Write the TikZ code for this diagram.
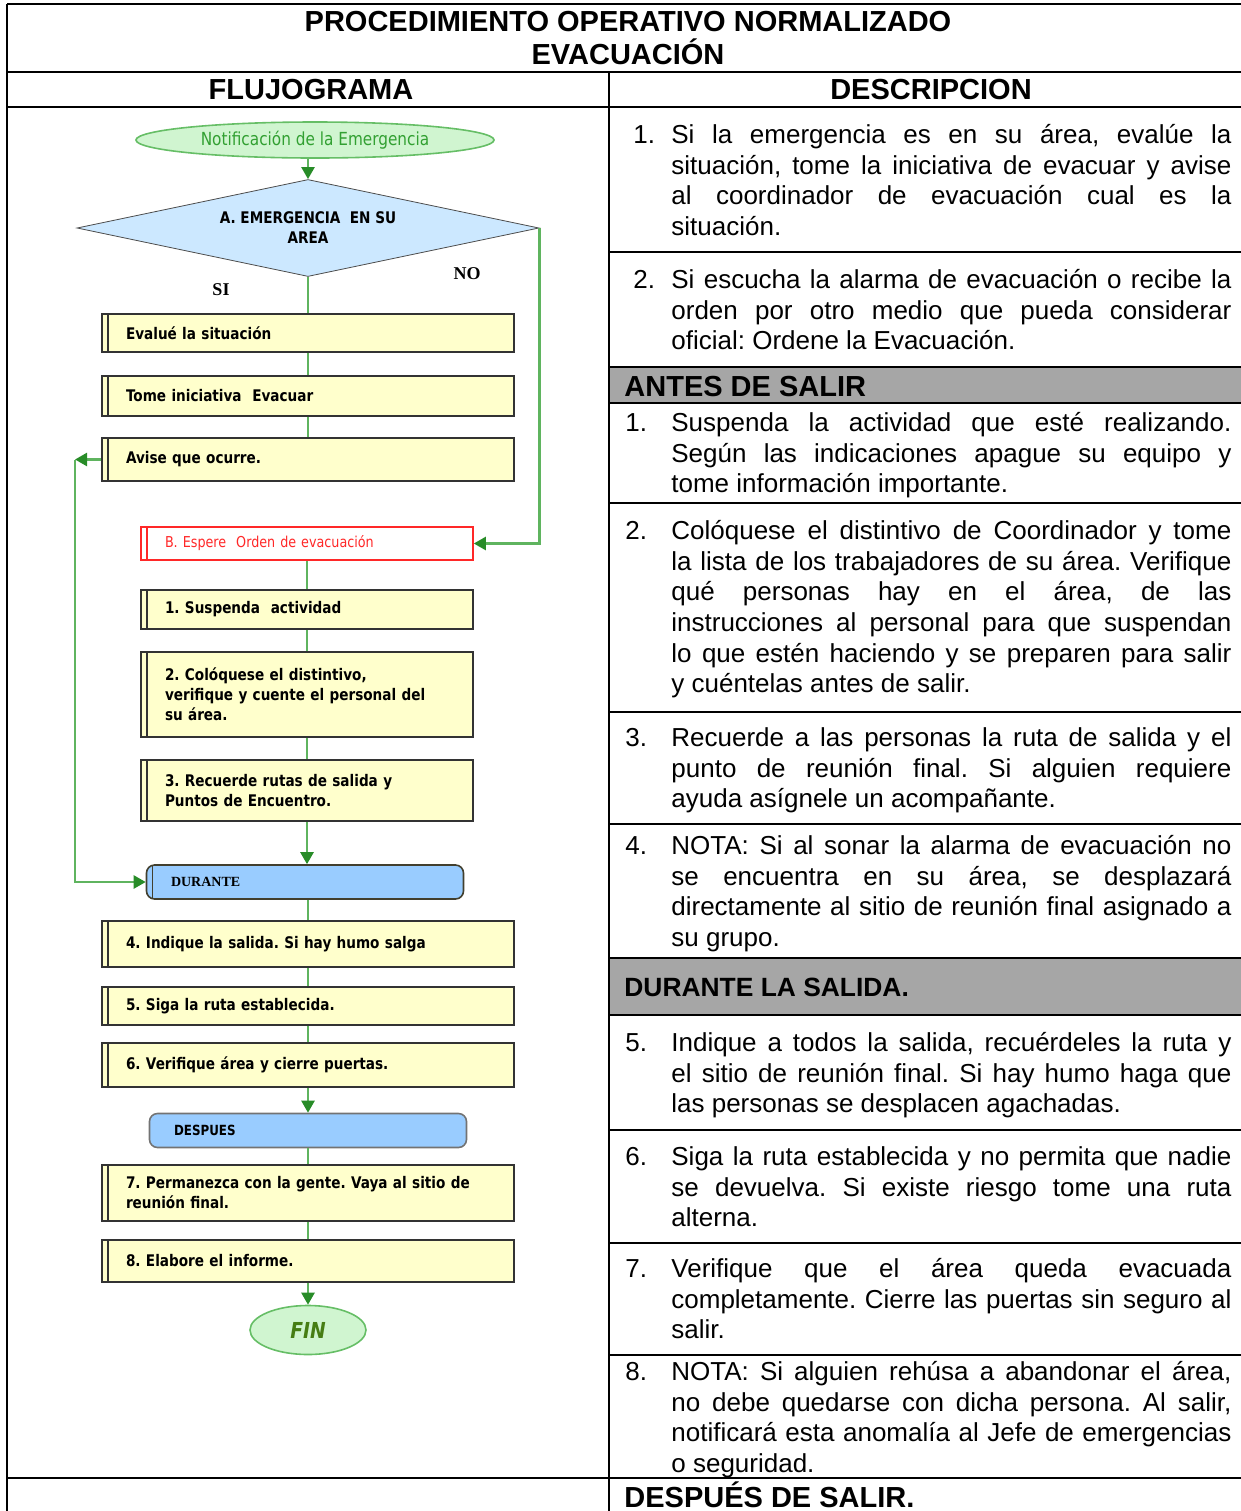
\documentclass[tikz,border=0pt]{standalone}
\usepackage{fontspec}
\setmainfont{Liberation Sans}
\newfontfamily\boxfont[FakeStretch=0.85]{DejaVu Sans}
\newfontfamily\serfont{Liberation Serif}
\usetikzlibrary{shapes.geometric,arrows.meta}
\definecolor{flowgreen}{RGB}{95,180,95}
\definecolor{tipgreen}{RGB}{40,140,40}
\definecolor{boxyellow}{RGB}{255,255,204}
\definecolor{diablue}{RGB}{204,232,255}
\definecolor{stageblue}{RGB}{153,204,255}
\definecolor{ovalgreen}{RGB}{208,245,208}
\definecolor{ovalline}{RGB}{102,190,102}
\definecolor{ovaltext}{RGB}{50,160,50}
\definecolor{fintext}{RGB}{70,125,20}
\definecolor{bandgray}{RGB}{166,166,166}
\definecolor{espred}{RGB}{255,40,40}
\newcommand{\itm}[2]{\llap{\makebox[#1][l]{#2}}}
\frenchspacing

\begin{document}
\begin{tikzpicture}[x=0.5pt, y=-0.5pt,
    rule/.style={line width=1pt},
    desc/.style={anchor=north west, inner sep=0pt, text width=280pt, align=justify,
        font=\fontsize{13}{15.33}\selectfont},
    hdr/.style={anchor=base west, inner sep=0pt, font=\bfseries\fontsize{14.5}{16}\selectfont},
    procbar/.style={path picture={\draw[#1, line width=0.8pt]
        ([xshift=3pt]path picture bounding box.north west) --
        ([xshift=3pt]path picture bounding box.south west);}},
    proc/.style={rectangle, draw=black!80, line width=0.8pt, fill=boxyellow, procbar=black!80,
        inner xsep=12pt, inner ysep=2pt, align=left,
        font=\boxfont\bfseries\fontsize{8}{10}\selectfont},
    wide/.style={text width=182pt},
    narrow/.style={text width=142pt},
    stage/.style={rectangle, rounded corners=4pt, fill=stageblue, line width=0.8pt,
        minimum height=17pt, text width=134pt, inner xsep=12.25pt, align=left},
    decision/.style={diamond, aspect=4.76, draw=black!70, fill=diablue,
        minimum width=231pt, minimum height=48.5pt, inner sep=0pt, align=center,
        font=\boxfont\bfseries\fontsize{8}{10}\selectfont},
    oval/.style={ellipse, draw=ovalline, line width=0.8pt, fill=ovalgreen, inner sep=0pt},
    flow/.style={draw=flowgreen, line width=1.2pt},
    arr/.style={flow, -{Triangle[width=6.5pt,length=6pt,color=tipgreen]}}]
\useasboundingbox (0,0) rectangle (1241,1511);

% table
\fill[bandgray] (609,367) rectangle (1241,403);
\fill[bandgray] (609,958) rectangle (1241,1015);
\draw[rule] (7,4) -- (1241,4);
\draw[rule] (7,72) -- (1241,72);
\draw[rule] (7,107) -- (1241,107);
\draw[rule] (7,1478) -- (1241,1478);
\draw[rule] (7,4) -- (7,1511);
\draw[rule] (609,72) -- (609,1511);
\foreach \y in {252,367,403,503,712,824,958,1015,1130,1243,1355}
    \draw[rule] (609,\y) -- (1241,\y);

\node[font=\bfseries\fontsize{14.5}{16.5}\selectfont, align=center] (titulo) at (628,38)
    {PROCEDIMIENTO OPERATIVO NORMALIZADO\\EVACUACIÓN};
\node[font=\bfseries\fontsize{14.5}{16}\selectfont] (flujo) at (311,90) {FLUJOGRAMA};
\node[font=\bfseries\fontsize{14.5}{16}\selectfont] (descr) at (931,90) {DESCRIPCION};

% flujograma
\node[oval, minimum width=179pt, minimum height=18pt, text=ovaltext,
    font=\boxfont\fontsize{9}{10}\selectfont] (notif) at (315,140) {Notificación de la Emergencia};
\node[decision] (emerg) at (308,228) {A. EMERGENCIA\ \ EN SU\\AREA};
\node[font=\serfont\bfseries\fontsize{9}{10}\selectfont] (si) at (221,290) {SI};
\node[font=\serfont\bfseries\fontsize{9}{10}\selectfont] (no) at (467,274) {NO};
\node[proc, wide, minimum height=19pt] (evalue) at (308,333) {Evalué la situación};
\node[proc, wide, minimum height=20pt] (tome) at (308,396) {Tome iniciativa\ \ Evacuar};
\node[proc, wide, minimum height=21.5pt] (avise) at (308,459.5) {Avise que ocurre.};
\node[proc, narrow, draw=espred, procbar=espred, fill=white, text=espred,
    font=\boxfont\fontsize{7.5}{9}\selectfont, minimum height=16.5pt] (espere) at (307,543.5)
    {B. Espere\ \ Orden de evacuación};
\node[proc, narrow, minimum height=19.5pt] (suspenda) at (307,609.5) {1. Suspenda\ \ actividad};
\node[proc, narrow, minimum height=42.5pt] (coloque) at (307,694.5)
    {2. Colóquese el distintivo,\\verifique y cuente el personal del\\su área.};
\node[proc, narrow, minimum height=30.5pt] (recuerde) at (307,790.5)
    {3. Recuerde rutas de salida y\\Puntos de Encuentro.};
\node[stage, draw=black!70!olive, procbar=black!70!olive,
    font=\serfont\bfseries\fontsize{7}{8}\selectfont] (durante) at (305,882) {DURANTE};
\node[proc, wide, minimum height=23pt] (indique) at (308,944) {4. Indique la salida. Si hay humo salga};
\node[proc, wide, minimum height=19pt] (siga) at (308,1006) {5. Siga la ruta establecida.};
\node[proc, wide, minimum height=22pt] (verifique) at (308,1065) {6. Verifique área y cierre puertas.};
\node[stage, draw=black!55, font=\boxfont\bfseries\fontsize{7}{8}\selectfont] (despues) at (308,1130.5) {DESPUES};
\node[proc, wide, minimum height=28pt] (permanezca) at (308,1193)
    {7. Permanezca con la gente. Vaya al sitio de\\reunión final.};
\node[proc, wide, minimum height=21pt] (elabore) at (308,1261) {8. Elabore el informe.};
\node[oval, minimum width=58pt, minimum height=24.5pt, text=fintext,
    font=\boxfont\bfseries\itshape\fontsize{11}{12}\selectfont] (fin) at (308,1330) {FIN};

\coordinate (vuelta) at (75,459.5);
\draw[arr] (notif.south -| emerg) -- (emerg);
\draw[flow] (emerg) -- (evalue);
\draw[flow] (evalue) -- (tome);
\draw[flow] (tome) -- (avise);
\draw[arr] (avise) -- (vuelta);
\draw[arr] (vuelta) |- (durante);
\draw[arr] (emerg.east) |- (espere);
\draw[flow] (espere) -- (suspenda);
\draw[flow] (suspenda) -- (coloque);
\draw[flow] (coloque) -- (recuerde);
\draw[arr] (recuerde) -- (recuerde |- durante.north);
\draw[flow] (durante.south -| indique) -- (indique);
\draw[flow] (indique) -- (siga);
\draw[flow] (siga) -- (verifique);
\draw[arr] (verifique) -- (despues);
\draw[flow] (despues) -- (permanezca);
\draw[flow] (permanezca) -- (elabore);
\draw[arr] (elabore) -- (fin);

% descripcion
\node[desc] (d1) at (671,121.5) {\strut\itm{19pt}{1.}Si la emergencia es en su área, evalúe la\linebreak
    situación, tome la iniciativa de evacuar y avise\linebreak al coordinador de evacuación cual es la\linebreak situación.};
\node[desc] (d2) at (671,266.5) {\strut\itm{19pt}{2.}Si escucha la alarma de evacuación o recibe la\linebreak
    orden por otro medio que pueda considerar\linebreak oficial: Ordene la Evacuación.};
\node[hdr] (antes) at (624,396) {ANTES DE SALIR};
\node[desc] (a1) at (671,409.5) {\strut\itm{23pt}{1.}Suspenda la actividad que esté realizando.\linebreak
    Según las indicaciones apague su equipo y\linebreak tome información importante.};
\node[desc] (a2) at (671,517.5) {\strut\itm{23pt}{2.}Colóquese el distintivo de Coordinador y tome\linebreak
    la lista de los trabajadores de su área. Verifique\linebreak qué personas hay en el área, de las\linebreak
    instrucciones al personal para que suspendan\linebreak lo que estén haciendo y se preparen para salir\linebreak
    y cuéntelas antes de salir.};
\node[desc] (a3) at (671,724.5) {\strut\itm{23pt}{3.}Recuerde a las personas la ruta de salida y el\linebreak
    punto de reunión final. Si alguien requiere\linebreak ayuda asígnele un acompañante.};
\node[desc] (a4) at (671,832.5) {\strut\itm{23pt}{4.}NOTA: Si al sonar la alarma de evacuación no\linebreak
    se encuentra en su área, se desplazará\linebreak directamente al sitio de reunión final asignado a\linebreak su grupo.};
\node[hdr, font=\bfseries\fontsize{13.2}{15}\selectfont] (durhdr) at (624,996) {DURANTE LA SALIDA.};
\node[desc] (s5) at (671,1029.5) {\strut\itm{23pt}{5.}Indique a todos la salida, recuérdeles la ruta y\linebreak
    el sitio de reunión final. Si hay humo haga que\linebreak las personas se desplacen agachadas.};
\node[desc] (s6) at (671,1143.5) {\strut\itm{23pt}{6.}Siga la ruta establecida y no permita que nadie\linebreak
    se devuelva. Si existe riesgo tome una ruta\linebreak alterna.};
\node[desc] (s7) at (671,1255.5) {\strut\itm{23pt}{7.}Verifique que el área queda evacuada\linebreak
    completamente. Cierre las puertas sin seguro al\linebreak salir.};
\node[desc] (s8) at (671,1358.5) {\strut\itm{23pt}{8.}NOTA: Si alguien rehúsa a abandonar el área,\linebreak
    no debe quedarse con dicha persona. Al salir,\linebreak notificará esta anomalía al Jefe de emergencias\linebreak
    o seguridad.};
\node[hdr] (despueshdr) at (624,1507) {DESPUÉS DE SALIR.};
\end{tikzpicture}
\end{document}
